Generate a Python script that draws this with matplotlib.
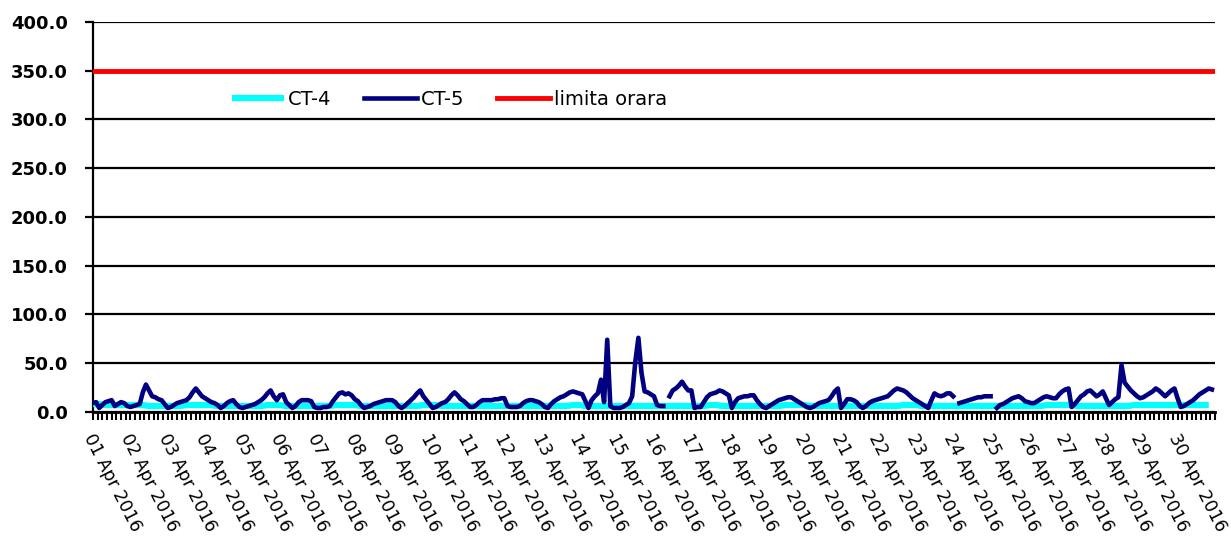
import numpy as np
import matplotlib.pyplot as plt

# CT-5, 2-hourly values, one row per day (1..30 Apr 2016); nan = missing
ct5_days = [
    [9, 10, 4, 7, 10, 11, 12, 6, 8, 10, 9, 6],
    [5, 6, 7, 8, 20, 28, 22, 16, 15, 13, 12, 8],
    [4, 5, 7, 9, 10, 11, 12, 15, 20, 24, 20, 16],
    [14, 12, 10, 9, 7, 4, 6, 9, 11, 12, 8, 5],
    [4, 5, 6, 7, 8, 10, 12, 15, 19, 22, 16, 12],
    [17, 18, 10, 7, 4, 6, 10, 12, 12, 12, 11, 5],
    [4, 4, 5, 5, 6, 11, 15, 19, 20, 18, 19, 17],
    [13, 11, 7, 4, 5, 6, 8, 9, 10, 11, 12, 12],
    [12, 10, 6, 4, 6, 9, 12, 15, 19, 22, 16, 12],
    [8, 4, 5, 7, 9, 10, 13, 17, 20, 17, 13, 11],
    [8, 5, 5, 7, 10, 12, 12, 12, 12, 13, 13, 14],
    [14, 6, 5, 5, 5, 6, 9, 11, 12, 12, 11, 10],
    [8, 5, 4, 8, 11, 13, 15, 16, 18, 20, 21, 20],
    [19, 18, 11, 4, 12, 16, 19, 33, 10, 74, 6, 4],
    [4, 4, 5, 7, 9, 16, 51, 76, 40, 21, 20, 18],
    [16, 7, 6, 6, np.nan, 16, 22, 24, 27, 31, 26, 22],
    [22, 4, 5, 5, 10, 15, 18, 19, 20, 22, 21, 19],
    [17, 4, 10, 14, 15, 16, 16, 17, 17, 12, 8, 5],
    [4, 6, 8, 10, 12, 13, 14, 15, 15, 13, 11, 9],
    [7, 5, 4, 5, 7, 9, 10, 11, 12, 16, 21, 24],
    [4, 8, 13, 13, 12, 10, 6, 4, 6, 9, 11, 12],
    [13, 14, 15, 16, 19, 22, 24, 23, 22, 20, 17, 14],
    [12, 10, 8, 6, 4, 12, 19, 17, 16, 17, 19, 19],
    [16, np.nan, 9, 10, 11, 12, 13, 14, 15, 15, 16, 16],
    [16, np.nan, 4, 7, 8, 10, 12, 14, 15, 16, 14, 11],
    [10, 9, 9, 11, 13, 15, 16, 15, 14, 14, 18, 21],
    [23, 24, 5, 8, 12, 16, 18, 21, 22, 19, 16, 18],
    [21, 14, 7, 10, 13, 15, 48, 30, 26, 22, 19, 16],
    [14, 15, 17, 19, 21, 24, 22, 19, 16, 19, 22, 24],
    [14, 5, 6, 8, 10, 12, 15, 18, 20, 22, 24, 23],
]

# CT-4, 4-hourly values, one row per day
ct4_days = [
    [8, 8, 7, 7, 7, 7],
    [7, 7, 7, 6, 6, 6],
    [6, 6, 6, 7, 7, 7],
    [7, 7, 6, 6, 6, 6],
    [6, 6, 6, 6, 7, 7],
    [7, 6, 6, 6, 6, 6],
    [6, 6, 6, 7, 7, 7],
    [7, 6, 6, 6, 6, 6],
    [6, 6, 6, 6, 6, 7],
    [7, 7, 6, 6, 6, 6],
    [6, 6, 6, 6, 6, 6],
    [6, 6, 6, 6, 6, 6],
    [6, 6, 6, 6, 6, 7],
    [7, 6, 6, 6, 6, 6],
    [6, 6, 6, 6, 6, 6],
    [6, 6, 6, 6, 6, 6],
    [6, 6, 6, 7, 7, 6],
    [6, 6, 6, 6, 6, 6],
    [6, 6, 6, 7, 7, 7],
    [7, 6, 6, 6, 6, 6],
    [6, 6, 6, 6, 6, 6],
    [6, 6, 6, 6, 7, 7],
    [7, 6, 6, 6, 6, 6],
    [6, 6, 6, 6, 6, 6],
    [6, 6, 6, 6, 6, 6],
    [6, 6, 6, 7, 7, 7],
    [7, 7, 6, 6, 6, 6],
    [6, 6, 6, 6, 6, 7],
    [7, 7, 7, 7, 7, 7],
    [7, 7, 7, 7, 7, 7],
]

limit_value = 350.0
day_labels = [f"{d:02d} Apr 2016" for d in range(1, 31)]

ct5 = np.array(ct5_days, dtype=float).ravel()
ct4 = np.array(ct4_days, dtype=float).ravel()
hours5 = np.arange(len(ct5)) * 2
hours4 = np.arange(len(ct4)) * 4
n_hours = 24 * len(day_labels)

fig = plt.figure(figsize=(12.31, 5.37), dpi=100)
ax = fig.add_axes([0.0755, 0.233, 0.9115, 0.726])

ax.plot(hours4, ct4, color="#00FFFF", lw=4.5, label="CT-4", zorder=3,
        solid_capstyle="butt")
ax.plot(hours5, ct5, color="#000080", lw=3.3, label="CT-5", zorder=4)
ax.plot([0, n_hours], [limit_value, limit_value], color="#FF0000", lw=3.5,
        label="limita orara", zorder=5)

ax.set_xlim(0, n_hours)
ax.set_ylim(0, 400)
ax.set_yticks(np.arange(0, 401, 50))
ax.set_yticklabels([f"{v:.1f}" for v in np.arange(0, 401, 50)],
                   fontsize=13, fontweight="bold")
ax.yaxis.grid(True, color="black", lw=1.6)
ax.set_axisbelow(True)

ax.set_xticks(np.arange(0, n_hours, 24) + 2)
ax.set_xticks(np.arange(0, n_hours + 1, 3), minor=True)
ax.set_xticklabels(day_labels, rotation=-63, ha="left", va="top",
                   rotation_mode="anchor", fontsize=12.5)
ax.tick_params(axis="x", which="major", length=0, pad=14)
ax.tick_params(axis="x", which="minor", direction="out", length=6,
               width=1.5, color="black")
ax.tick_params(axis="y", length=6, width=1.6, pad=12)

for s in ["top", "right"]:
    ax.spines[s].set_visible(False)
ax.spines["left"].set_linewidth(1.6)
ax.spines["bottom"].set_linewidth(2)

ax.legend(loc="upper left", bbox_to_anchor=(0.108, 0.87), ncol=3,
          frameon=False, fontsize=14, handlelength=2.7, handletextpad=0.2,
          columnspacing=1.7)

fig.savefig("out.png", dpi=100)
